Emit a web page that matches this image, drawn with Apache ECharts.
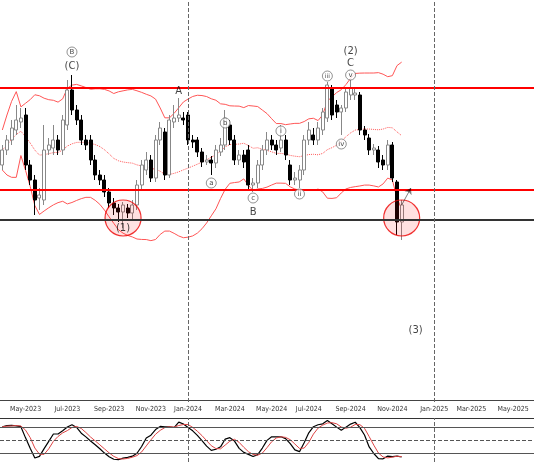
<!DOCTYPE html>
<html><head><meta charset="utf-8">
<script src="https://cdn.jsdelivr.net/npm/echarts@6/dist/echarts.min.js"></script>
<style>html,body{margin:0;padding:0;background:#fff}#c{width:534px;height:462px}</style>
</head><body><div id="c"></div>
<script>
// weekly candles [open, close, low, high]
const candles = [
[235,250,230,255],[250,260,245,265],[260,272,255,280],[270,280,265,295],[278,282,272,292],
[285,235,230,292],[235,220,215,240],[220,200,185,225],[202,205,190,212],[200,250,195,275],
[250,255,245,262],[252,260,245,275],[260,250,245,265],[250,280,245,285],[275,310,270,320],
[310,290,285,325],[290,280,275,295],[280,260,255,285],[260,255,250,265],[260,240,235,265],
[240,225,220,245],[225,220,215,230],[220,208,203,225],[208,197,192,212],[197,192,185,202],
[192,188,178,196],[188,195,172,198],[192,187,182,196],[187,195,180,200],[195,215,190,220],
[215,235,210,240],[230,240,225,248],[240,222,218,245],[222,260,218,265],[260,272,255,278],
[268,225,220,272],[225,280,222,285],[278,282,272,295],[282,285,278,302],[282,280,275,288],
[285,260,255,288],[260,258,252,265],[260,248,243,263],[248,238,233,252],[238,240,235,245],
[240,237,225,244],[237,250,232,255],[248,255,244,262],[255,282,250,290],[275,260,255,280],
[260,240,235,265],[240,245,235,250],[245,238,232,250],[250,215,210,255],[215,217,208,222],
[217,235,212,240],[235,250,230,255],[250,260,245,268],[260,255,250,265],[255,250,245,260],
[252,260,248,275],[260,245,240,265],[235,220,215,240],[220,222,215,228],[220,230,212,235],
[230,260,225,265],[260,270,255,278],[265,260,255,272],[260,272,255,278],[270,288,265,292],
[282,315,278,318],[312,285,280,315],[295,288,282,300],[288,292,265,295],[292,308,288,312],
[305,312,300,320],[305,307,300,312],[305,270,265,308],[270,265,260,274],[262,250,245,266],
[250,252,245,256],[250,238,232,254],[240,235,230,245],[235,255,230,260],[255,222,218,258],
[218,178,165,220],[178,195,160,200]
];
const startDate = '2023-03-27';
const totalWeeks = 115;
const resistance = 312, support = 210, baseLine = 180;
const waveLabels = [
 {i:15,p:348,t:'B',c:true},{i:15,p:334,t:'(C)'},
 {i:38,p:309,t:'A'},{i:45,p:217,t:'a',c:true},{i:48,p:277,t:'b',c:true},
 {i:54,p:202,t:'c',c:true},{i:54,p:188,t:'B'},
 {i:60,p:269,t:'i',c:true},{i:64,p:206,t:'ii',c:true},{i:70,p:324,t:'iii',c:true},
 {i:73,p:256,t:'iv',c:true},{i:75,p:325,t:'v',c:true},{i:75,p:337,t:'C'},{i:75,p:349,t:'(2)'},
 {i:26,p:172,t:'(1)'},{i:89,p:70,t:'(3)'}
];
const bigCircles = [[26,182],[86,182]];

const mon = ['Jan','Feb','Mar','Apr','May','Jun','Jul','Aug','Sep','Oct','Nov','Dec'];
const dates = [];
const d0 = new Date(startDate+'T00:00:00Z');
for (let k=0;k<totalWeeks;k++){ dates.push(new Date(d0.getTime()+k*7*86400000)); }
const cats = dates.map(d=>d.toISOString().slice(0,10));
const isLab = (idx)=>{const d=dates[idx];return d.getUTCDate()<=7 && d.getUTCMonth()%2===0 && !(d.getUTCFullYear()===2023&&d.getUTCMonth()<4);};
const fmt = (v)=>{const d=new Date(v+'T00:00:00Z');return mon[d.getUTCMonth()]+'-'+d.getUTCFullYear();};

// Bollinger 20, 2
const closes = candles.map(c=>c[1]);
const mid=[],up=[],lo=[];
closes.forEach((_,i)=>{const s=closes.slice(Math.max(0,i-19),i+1);const m=s.reduce((a,b)=>a+b,0)/s.length;
 const sd=Math.sqrt(s.reduce((a,b)=>a+(b-m)*(b-m),0)/s.length);mid.push(+m.toFixed(2));up.push(+(m+2*sd+(s.length<5?20:0)).toFixed(2));lo.push(+(m-2*sd-(s.length<5?20:0)).toFixed(2));});
// Stochastic 14,3,3
const raw=candles.map((c,i)=>{const w=candles.slice(Math.max(0,i-13),i+1);const hh=Math.max(...w.map(x=>x[3])),ll=Math.min(...w.map(x=>x[2]));return hh===ll?50:100*(c[1]-ll)/(hh-ll);});
const sma=(a,n)=>a.map((_,i)=>{const s=a.slice(Math.max(0,i-n+1),i+1);return s.reduce((x,y)=>x+y,0)/s.length;});
const kS=sma(raw,3).map(v=>+v.toFixed(2)), dS=sma(kS,3).map(v=>+v.toFixed(2));

const chart=echarts.init(document.getElementById('c'));
const jan24=cats.findIndex(c=>c>='2024-01-01'), jan25=cats.findIndex(c=>c>='2025-01-01');
chart.setOption({
 animation:false,
 grid:[{left:0,right:0,top:0,height:402},{left:0,right:0,top:418,height:44}],
 xAxis:[
  {type:'category',data:cats,gridIndex:0,boundaryGap:true,axisLine:{lineStyle:{color:'#444'}},
   axisTick:{inside:true,length:3,interval:isLab,lineStyle:{color:'#444'}},
   axisLabel:{interval:isLab,formatter:fmt,fontSize:7,color:'#333',margin:4,fontFamily:'Liberation Sans Narrow, DejaVu Sans Condensed, sans-serif'},splitLine:{show:false}},
  {type:'category',data:cats,gridIndex:1,axisLine:{show:false},axisTick:{show:false},axisLabel:{show:false}}
 ],
 yAxis:[
  {gridIndex:0,min:-2,max:400,show:false},
  {gridIndex:1,min:0,max:100,show:false}
 ],
 series:[
  {type:'candlestick',data:candles.map(c=>[c[0],c[1],c[2],c[3]]),barWidth:3.5,
   itemStyle:{color:'#fff',color0:'#000',borderColor:'#888',borderColor0:'#000',borderWidth:1},
   markLine:{silent:true,symbol:'none',label:{show:false},data:[
     {yAxis:resistance,lineStyle:{color:'#f00',width:2,type:'solid'}},
     {yAxis:support,lineStyle:{color:'#f00',width:2,type:'solid'}},
     {yAxis:baseLine,lineStyle:{color:'#333',width:2,type:'solid'}},
     {xAxis:jan24,lineStyle:{color:'#666',width:1,type:'dashed'}},
     {xAxis:jan25,lineStyle:{color:'#666',width:1,type:'dashed'}}
   ]}},
  {type:'line',data:up,symbol:'none',lineStyle:{color:'#f55',width:1},z:1},
  {type:'line',data:lo,symbol:'none',lineStyle:{color:'#f55',width:1},z:1},
  {type:'line',data:mid,symbol:'none',lineStyle:{color:'#f55',width:1,type:'dotted'},z:1},
  {type:'scatter',data:bigCircles,symbolSize:36,itemStyle:{color:'rgba(255,0,0,0.15)',borderColor:'#e00',borderWidth:1.2},z:3},
  {type:'lines',coordinateSystem:'cartesian2d',data:[{coords:[[86,195],[88,212]]}],
   lineStyle:{color:'#000',width:1},symbol:['none','arrow'],symbolSize:6,z:6},
  {type:'scatter',z:5,data:waveLabels.map(w=>({value:[w.i,w.p],symbolSize:w.c?10:1,
    itemStyle:{color:w.c?'#fff':'transparent',borderColor:w.c?'#555':'transparent',borderWidth:0.8},
    label:{show:true,position:'inside',formatter:w.t,color:'#111',fontSize:w.c?(w.t.length>2?6:7):10,fontFamily:'DejaVu Sans'}}))},
  {type:'line',xAxisIndex:1,yAxisIndex:1,data:kS,symbol:'none',lineStyle:{color:'#000',width:1.2},
   markLine:{silent:true,symbol:'none',label:{show:false},data:[
     {yAxis:80,lineStyle:{color:'#555',width:1,type:'solid'}},
     {yAxis:50,lineStyle:{color:'#555',width:1,type:'dashed'}},
     {yAxis:20,lineStyle:{color:'#555',width:1,type:'solid'}},
     {yAxis:100,lineStyle:{color:'#333',width:1,type:'solid'}},
     {yAxis:0,lineStyle:{color:'#333',width:1,type:'solid'}},
     {xAxis:jan24,lineStyle:{color:'#666',width:1,type:'dashed'}},
     {xAxis:jan25,lineStyle:{color:'#666',width:1,type:'dashed'}}
   ]}},
  {type:'line',xAxisIndex:1,yAxisIndex:1,data:dS,symbol:'none',lineStyle:{color:'#d44',width:1}}
 ]
});
</script></body></html>
